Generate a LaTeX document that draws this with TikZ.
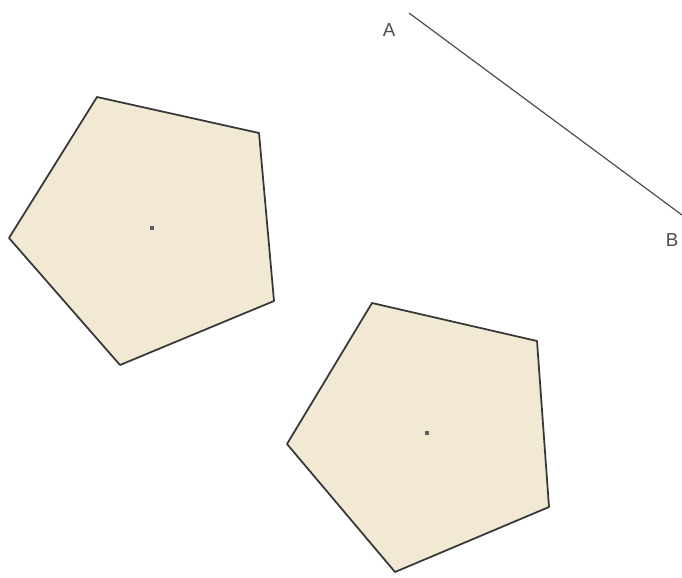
\documentclass[tikz,border=0pt]{standalone}
\usepackage{fontspec}
\setsansfont{Liberation Sans}
\definecolor{beige}{RGB}{241,233,212}
\definecolor{bord}{RGB}{55,55,55}
\begin{document}
\begin{tikzpicture}[x=0.03cm, y=-0.03cm,
    poly/.style={fill=beige, draw=bord, line width=1.5pt, line join=round},
    centre/.style={fill=bord!80, inner sep=0pt, minimum size=3pt, rectangle},
    lettre/.style={font=\sffamily\fontsize{16}{16}\selectfont, text=black!70}]
      % Cadre
      \useasboundingbox (0,0) rectangle (682,577);

      % Segment AB
      \coordinate (A) at (409,13);
      \coordinate (B) at (682,215);
      \draw[bord!90, line width=1pt] (A) -- (B);
      \node[lettre] (lA) at (389,30) {A};
      \node[lettre] (lB) at (672,240) {B};

      % Pentagone de depart
      \coordinate (P1) at (97,97);
      \coordinate (P2) at (259,133);
      \coordinate (P3) at (274,301);
      \coordinate (P4) at (120,365);
      \coordinate (P5) at (9,238);
      \draw[poly] (P1) -- (P2) -- (P3) -- (P4) -- (P5) -- cycle;
      \node[centre] (O) at (152,228) {};

      % Image par la translation de vecteur AB
      \coordinate (Q1) at (372,303);
      \coordinate (Q2) at (537,341);
      \coordinate (Q3) at (549,507);
      \coordinate (Q4) at (395,572);
      \coordinate (Q5) at (287,444);
      \draw[poly] (Q1) -- (Q2) -- (Q3) -- (Q4) -- (Q5) -- cycle;
      \node[centre] (O') at (427,433) {};
    \end{tikzpicture}
\end{document}
